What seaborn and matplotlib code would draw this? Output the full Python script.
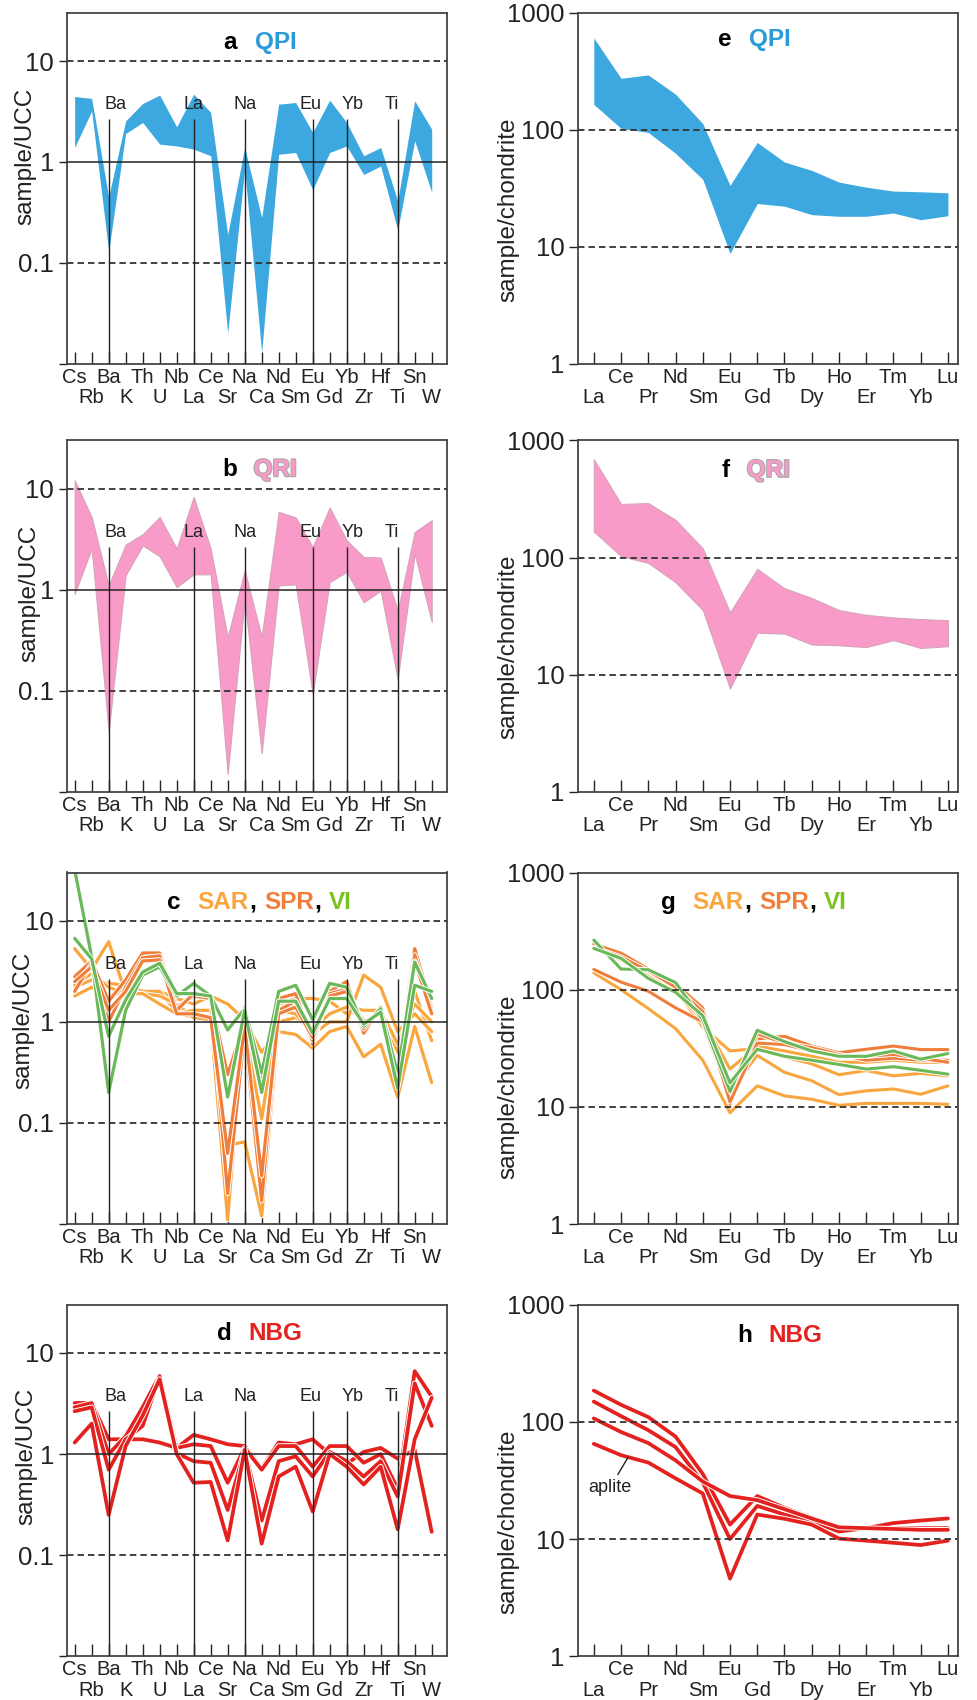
import numpy as np
import pandas as pd
import matplotlib
matplotlib.use("Agg")
import matplotlib.pyplot as plt
import matplotlib.patheffects as pe
from matplotlib.ticker import NullLocator
import seaborn as sns

# ---- element lists ----
spider = ["Cs", "Rb", "Ba", "K", "Th", "U", "Nb", "La", "Ce", "Sr", "Na",
          "Ca", "Nd", "Sm", "Eu", "Gd", "Yb", "Zr", "Hf", "Ti", "Sn", "W"]
ree = ["La", "Ce", "Pr", "Nd", "Sm", "Eu", "Gd", "Tb", "Dy", "Ho", "Er",
       "Tm", "Yb", "Lu"]
marked = ["Ba", "La", "Na", "Eu", "Yb", "Ti"]

# ---- QPI / QRI ranges (sample/UCC) ----
qpi_ucc_hi = [4.46, 4.26, 0.45, 2.55, 3.8, 4.6, 2.23, 4.7, 3.1, 0.19, 1.39,
              0.28, 3.74, 3.88, 1.96, 4.1, 2.46, 1.15, 1.39, 0.41, 4.04, 2.11]
qpi_ucc_lo = [1.39, 3.2, 0.13, 1.91, 2.46, 1.5, 1.44, 1.34, 1.15, 0.020, 0.85,
              0.0128, 1.19, 1.24, 0.53, 1.24, 1.44, 0.75, 0.91, 0.21, 1.62, 0.5]
qri_ucc_hi = [12.1, 5.25, 1.1, 2.8, 3.54, 5.25, 2.55, 8.3, 2.55, 0.34, 1.55,
              0.34, 5.9, 5.2, 2.65, 6.5, 3.08, 2.11, 2.08, 0.62, 3.73, 4.87]
qri_ucc_lo = [0.91, 2.55, 0.04, 1.39, 2.75, 2.14, 1.06, 1.42, 1.42, 0.015, 0.8,
              0.024, 1.1, 1.13, 0.093, 1.19, 1.5, 0.75, 0.98, 0.13, 2.27, 0.48]

# ---- QPI / QRI ranges (sample/chondrite) ----
qpi_ch_hi = [612, 276, 295, 202, 113, 33.4, 78, 53, 45, 35.7, 32.3, 29.9, 29.5, 28.9]
qpi_ch_lo = [165, 103, 95, 63, 37.7, 8.75, 23.4, 22.2, 18.8, 18.2, 18.2, 19.4, 17.0, 18.4]
qri_ch_hi = [692, 287, 292, 210, 120, 34, 80, 54.7, 45.2, 35.6, 32.4, 30.8, 29.8, 29.2]
qri_ch_lo = [167, 103, 90, 61.6, 35.6, 7.6, 22.8, 22.4, 18.1, 17.8, 17.2, 19.7, 16.9, 17.5]

# ---- SAR, SPR, VI samples (sample/UCC) ----
sar_ucc = {
    "SAR-1": [5.3, 3.3, 6.2, 1.9, 2.0, 2.0, 1.7, 1.5, 1.8, 1.5, 1.05, 0.5, 0.8,
              0.75, 0.55, 0.8, 0.9, 0.45, 0.6, 0.18, 0.9, 0.25],
    "SAR-2": [2.2, 2.6, 2.4, 2.3, 2.0, 2.0, 1.25, 1.1, 1.1, 0.011, 1.4, 0.2, 1.5,
              1.7, 1.7, 1.6, 1.2, 1.3, 1.3, 0.5, 2.0, 0.65],
    "SAR-3": [1.8, 2.2, 1.8, 2.0, 1.9, 1.8, 1.5, 1.1, 1.05, 0.06, 0.065, 0.012,
              1.0, 1.1, 0.85, 1.2, 1.4, 1.3, 1.3, 0.6, 1.5, 1.0],
    "SAR-4": [2.3, 3.0, 2.2, 1.9, 1.9, 1.5, 1.2, 1.3, 1.3, 0.055, 0.8, 0.11, 1.3,
              1.2, 0.75, 1.0, 1.0, 2.9, 2.2, 0.8, 1.2, 0.8],
}
spr_ucc = {
    "SPR-1": [2.8, 4.0, 1.6, 2.6, 4.8, 4.8, 1.4, 1.8, 1.7, 0.3, 1.0, 0.25, 1.7,
              1.9, 0.6, 2.0, 2.5, 0.77, 1.4, 0.3, 5.3, 1.4],
    "SPR-2": [2.0, 3.8, 1.0, 2.2, 4.3, 4.5, 1.3, 1.9, 1.8, 0.02, 0.8, 0.017, 1.3,
              1.6, 0.65, 1.9, 2.1, 0.85, 1.3, 0.25, 4.6, 1.3],
    "SPR-3": [2.5, 3.5, 1.3, 2.0, 4.0, 4.1, 1.2, 1.2, 1.1, 0.05, 0.9, 0.03, 1.2,
              1.4, 0.7, 1.8, 2.0, 1.0, 1.2, 0.3, 4.0, 1.2],
}
vi_ucc = {
    "VI-1": [32, 4.4, 0.2, 1.3, 2.9, 3.5, 1.8, 2.4, 1.8, 0.83, 1.35, 0.31, 2.0,
             2.3, 1.05, 2.4, 2.2, 0.9, 1.35, 0.31, 3.9, 1.7],
    "VI-2": [6.7, 4.2, 0.72, 1.65, 3.1, 3.8, 1.9, 1.9, 1.8, 0.18, 1.3, 0.2, 1.6,
             1.6, 0.77, 1.7, 1.7, 0.95, 1.25, 0.22, 2.3, 2.0],
}

# ---- SAR, SPR, VI samples (sample/chondrite) ----
sar_ch = {
    "SAR-1": [139, 100, 69, 46.6, 25, 8.9, 15.1, 12.4, 11.6, 10.3, 10.7, 10.7, 10.7, 10.5],
    "SAR-2": [235, 185, 135, 100, 55, 13.7, 27.5, 19.7, 16.7, 12.7, 13.7, 14.2, 12.8, 15.1],
    "SAR-3": [240, 195, 140, 100, 48, 30, 31.4, 26.6, 23.3, 18.8, 20.4, 18.4, 19.3, 18.4],
    "SAR-4": [230, 180, 130, 95, 55, 21, 33, 30, 27, 24, 24, 25, 24, 24],
}
spr_ch = {
    "SPR-1": [149, 116, 97, 70, 53, 12, 38, 40, 33, 29, 31, 33, 30.8, 30.8],
    "SPR-2": [245, 205, 150, 112, 70, 10.5, 42, 35, 32, 28, 25, 26, 25, 25],
    "SPR-3": [230, 190, 145, 105, 65, 11, 35, 34, 30, 27, 27, 28, 26, 24],
}
vi_ch = {
    "VI-1": [265, 150, 148, 115, 55, 13.5, 45, 36, 30, 27, 27, 30, 25.5, 28.5],
    "VI-2": [225, 185, 125, 95, 60, 16, 31, 27, 25, 23, 21, 22, 20.5, 19],
}

# ---- NBG samples ----
nbg_ucc = {
    "NBG-1": [3.2, 3.2, 1.4, 1.4, 1.4, 1.3, 1.15, 1.55, 1.4, 1.25, 1.2, 0.72, 1.3,
              1.25, 1.4, 1.0, 0.8, 1.05, 1.15, 0.9, 1.1, 0.17],
    "NBG-2": [2.9, 3.2, 1.0, 1.5, 2.9, 6.0, 1.15, 1.25, 1.2, 0.52, 1.15, 0.7, 1.2,
              1.2, 0.75, 1.2, 1.2, 0.82, 1.0, 0.45, 6.6, 3.7],
    "NBG-3": [2.65, 2.9, 0.7, 1.4, 1.9, 5.9, 1.02, 0.85, 0.82, 0.28, 1.1, 0.22,
              0.85, 0.95, 0.6, 1.05, 0.85, 0.6, 0.85, 0.38, 5.0, 1.9],
    "NBG-4": [1.3, 2.0, 0.25, 1.2, 2.4, 5.5, 1.0, 0.52, 0.53, 0.14, 1.1, 0.13, 0.6,
              0.75, 0.27, 1.0, 0.75, 0.5, 0.75, 0.18, 1.4, 3.6],
}
nbg_ch = {
    "NBG-1": [185, 140, 110, 75, 36, 13.3, 23.3, 18.5, 15.2, 12.6, 12.4, 12.4, 12.4, 12.4],
    "NBG-2": [149, 112, 85, 61, 30.4, 10, 19.2, 16.2, 14.2, 11.6, 12.4, 13.7, 14.4, 15],
    "NBG-3": [107, 82, 66, 47, 31, 23.3, 21.5, 18, 15, 12.6, 12.4, 12.2, 12, 12],
    "NBG-4": [65, 52, 45, 33, 24.5, 4.6, 16.2, 14.9, 13.3, 10.1, 9.7, 9.3, 8.9, 9.7],
}

# ---- colours ----
c_qpi = "#3da8e0"
c_qpi_t = "#2a9ad8"
c_qri = "#f99bc8"
c_sar = "#f9a63e"
c_spr = "#ef7e3a"
c_vi = "#6ab85a"
c_vi_t = "#7cc322"
c_nbg = "#e3221f"
ink = "#222222"

sns.set_theme(style="ticks")
plt.rcParams["font.family"] = ["Liberation Sans", "DejaVu Sans"]

W, H = 978, 1700
fig = plt.figure(figsize=(W / 100, H / 100), dpi=100)
rows_px = [(13, 363.5), (440.5, 791.7), (872.5, 1224), (1304.7, 1656.3)]
cols_px = [(67, 447), (578, 958)]

XLAB = 14.5
dash = (0, (3.6, 2.2))


def make_ax(r, c):
    (t, b), (l, rr) = rows_px[r], cols_px[c]
    return fig.add_axes([l / W, 1 - b / H, (rr - l) / W, (b - t) / H])


def long_df(groups):
    rows = []
    for name, vals in groups.items():
        for i, v in enumerate(vals):
            rows.append((name, i, v))
    return pd.DataFrame(rows, columns=["sample", "pos", "value"])


def two_row_xticks(ax, names, top_parity):
    top = [i for i in range(len(names)) if i % 2 == top_parity]
    low = [i for i in range(len(names)) if i % 2 != top_parity]
    ax.set_xticks(top)
    ax.set_xticklabels([names[i] for i in top])
    ax.set_xticks(low, minor=True)
    ax.set_xticklabels([names[i] for i in low], minor=True)
    ax.tick_params(axis="x", which="both", direction="in", length=8.5, width=1.0,
                   labelsize=XLAB, colors=ink)
    ax.tick_params(axis="x", which="major", pad=3.0)
    ax.tick_params(axis="x", which="minor", pad=17.5)


def frame(ax):
    for s in ax.spines.values():
        s.set_color("#444444")
        s.set_linewidth(1.3)


def style_ucc(ax, ylab_y):
    ax.set_yscale("log")
    ax.set_ylim(0.01, 30)
    ax.set_xlim(-0.45, 21.9)
    ax.set_yticks([0.01, 0.1, 1, 10])
    ax.set_yticklabels(["", "0.1", "1", "10"])
    ax.yaxis.set_minor_locator(NullLocator())
    two_row_xticks(ax, spider, 0)
    ax.tick_params(axis="y", direction="out", length=6, width=1.0, pad=3.2,
                   labelsize=18.5, colors=ink)
    ax.axhline(10, color="#333333", lw=1.3, ls=dash, zorder=3)
    ax.axhline(0.1, color="#333333", lw=1.3, ls=dash, zorder=3)
    ax.axhline(1, color=ink, lw=1.1, zorder=3)
    for name, dx in zip(marked, [0.4, 0.0, 0.0, -0.15, 0.35, -0.35]):
        p = spider.index(name)
        ax.vlines(p, 0.01, 2.65, color=ink, lw=1.0, zorder=3)
        ax.text(p + dx, 3.7, name, ha="center", va="center", fontsize=13, color=ink)
    frame(ax)


def style_ree(ax):
    ax.set_yscale("log")
    ax.set_ylim(1, 1000)
    ax.set_xlim(-0.58, 13.37)
    ax.set_yticks([1, 10, 100, 1000])
    ax.set_yticklabels(["1", "10", "100", "1000"])
    ax.yaxis.set_minor_locator(NullLocator())
    two_row_xticks(ax, ree, 1)
    ax.tick_params(axis="y", direction="out", length=6.5, width=1.0, pad=3.2,
                   labelsize=18.5, colors=ink)
    ax.axhline(100, color="#333333", lw=1.3, ls=dash, zorder=3)
    ax.axhline(10, color="#333333", lw=1.3, ls=dash, zorder=3)
    frame(ax)


def ylab(ax, text, x, y):
    ax.set_ylabel(text, fontsize=17.5, color=ink)
    ax.yaxis.set_label_coords(x, y)


def panel_title(ax, letter, parts, x_letter, x_name, y):
    ax.text(x_letter, y, letter, transform=ax.transAxes, ha="right", va="center",
            fontsize=17.5, fontweight="bold", color="black")
    prev = None
    for txt, col, gap in parts:
        kw = dict(fontsize=17.5, fontweight="bold", color=col)
        if txt == "QRI":
            kw["path_effects"] = [pe.withStroke(linewidth=1.6, foreground="#a9a9a9")]
        if prev is None:
            prev = ax.text(x_name, y, txt, transform=ax.transAxes, ha="left",
                           va="center", **kw)
        else:
            prev = ax.annotate(txt, xy=(1, 0), xycoords=prev, xytext=(gap, 0),
                               textcoords="offset points", ha="left", va="bottom", **kw)


def draw_lines(ax, groups_colors, lw):
    for groups, col in groups_colors:
        df = long_df(groups)
        sns.lineplot(data=df, x="pos", y="value", hue="sample",
                     palette={k: col for k in groups}, estimator=None, sort=False,
                     legend=False, linewidth=lw, ax=ax, zorder=2,
                     path_effects=[pe.withStroke(linewidth=lw + 1.4, foreground="white")])
    ax.set_xlabel("")


mix = [("SAR", c_sar, 0), (",", "black", 0), ("SPR", c_spr, 6),
       (",", "black", 0), ("VI", c_vi_t, 6)]

# a
ax = make_ax(0, 0)
style_ucc(ax, 0.59)
ax.fill_between(range(len(spider)), qpi_ucc_lo, qpi_ucc_hi, color=c_qpi, lw=0, zorder=1)
ylab(ax, "sample/UCC", -0.08, 0.59)
panel_title(ax, "a", [("QPI", c_qpi_t, 0)], 0.447, 0.494, 0.915)

# e
ax = make_ax(0, 1)
style_ree(ax)
ax.fill_between(range(len(ree)), qpi_ch_lo, qpi_ch_hi, color=c_qpi, lw=0, zorder=1)
ylab(ax, "sample/chondrite", -0.155, 0.44)
panel_title(ax, "e", [("QPI", c_qpi_t, 0)], 0.405, 0.449, 0.924)

# b
ax = make_ax(1, 0)
style_ucc(ax, 0.566)
ax.fill_between(range(len(spider)), qri_ucc_lo, qri_ucc_hi, color=c_qri,
                edgecolor="#d6a3ba", lw=0.8, zorder=1)
ylab(ax, "sample/UCC", -0.07, 0.566)
panel_title(ax, "b", [("QRI", c_qri, 0)], 0.449, 0.491, 0.917)

# f
ax = make_ax(1, 1)
style_ree(ax)
ax.fill_between(range(len(ree)), qri_ch_lo, qri_ch_hi, color=c_qri,
                edgecolor="#d6a3ba", lw=0.8, zorder=1)
ylab(ax, "sample/chondrite", -0.155, 0.412)
panel_title(ax, "f", [("QRI", c_qri, 0)], 0.40, 0.444, 0.915)

# c
ax = make_ax(2, 0)
style_ucc(ax, 0.578)
draw_lines(ax, [(sar_ucc, c_sar), (spr_ucc, c_spr), (vi_ucc, c_vi)], 2.3)
ylab(ax, "sample/UCC", -0.085, 0.578)
panel_title(ax, "c", mix, 0.30, 0.344, 0.915)

# g
ax = make_ax(2, 1)
style_ree(ax)
draw_lines(ax, [(sar_ch, c_sar), (spr_ch, c_spr), (vi_ch, c_vi)], 2.2)
ylab(ax, "sample/chondrite", -0.155, 0.39)
panel_title(ax, "g", mix, 0.258, 0.302, 0.915)

# d
ax = make_ax(3, 0)
style_ucc(ax, 0.569)
draw_lines(ax, [(nbg_ucc, c_nbg)], 2.7)
ylab(ax, "sample/UCC", -0.078, 0.569)
panel_title(ax, "d", [("NBG", c_nbg, 0)], 0.434, 0.478, 0.918)

# h
ax = make_ax(3, 1)
style_ree(ax)
draw_lines(ax, [(nbg_ch, c_nbg)], 2.7)
ylab(ax, "sample/chondrite", -0.155, 0.382)
panel_title(ax, "h", [("NBG", c_nbg, 0)], 0.458, 0.502, 0.912)
ax.annotate("aplite", xy=(1.26, 50), xytext=(0.6, 27.5), textcoords="data",
            ha="center", va="center", fontsize=13, color=ink,
            arrowprops=dict(arrowstyle="-", color=ink, lw=1.0, shrinkA=1, shrinkB=0))

fig.savefig("out.png", dpi=100)
